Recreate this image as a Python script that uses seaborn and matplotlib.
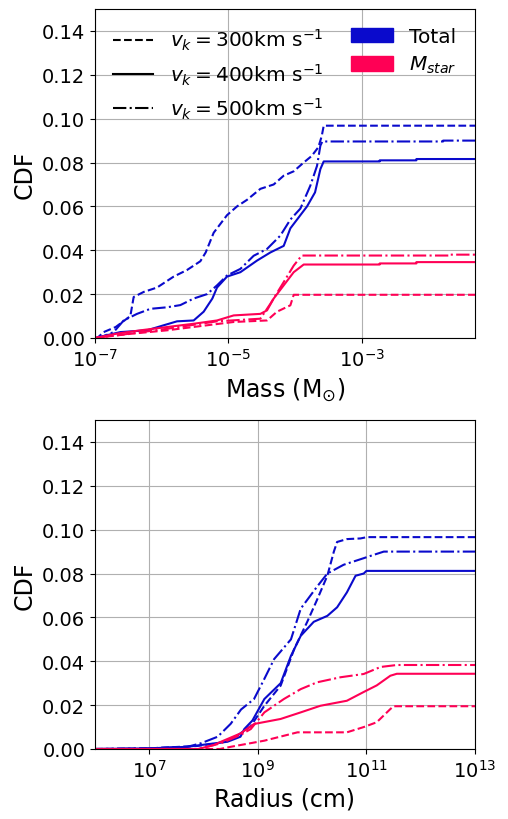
import matplotlib
matplotlib.use("Agg")
import matplotlib.pyplot as plt
import pandas as pd
import seaborn as sns
from matplotlib.lines import Line2D
from matplotlib.patches import Patch

# Top panel: CDF vs log10(mass / Msun)
mass_total_300_x = [-7.0, -6.965, -6.87, -6.69, -6.47, -6.42, -6.27, -6.07, -5.82, -5.62, -5.42, -5.34, -5.22,
                    -5.02, -4.87, -4.72, -4.52, -4.32, -4.17, -4.02, -3.87, -3.75, -3.65, -3.60, -3.57, -1.30]
mass_total_300_y = [0.0, 0.0, 0.0027, 0.005, 0.010, 0.0187, 0.021, 0.023, 0.028, 0.031, 0.035, 0.039, 0.048,
                    0.056, 0.060, 0.063, 0.068, 0.070, 0.074, 0.076, 0.080, 0.083, 0.087, 0.092, 0.0968, 0.0968]
mass_total_400_x = [-7.0, -6.62, -6.22, -5.97, -5.77, -5.52, -5.37, -5.24, -5.17, -5.02, -4.82, -4.57, -4.37,
                    -4.17, -4.07, -3.97, -3.82, -3.70, -3.62, -3.57, -2.73, -2.73, -2.18, -2.18, -1.30]
mass_total_400_y = [0.0, 0.0027, 0.0035, 0.0058, 0.0076, 0.008, 0.012, 0.018, 0.023, 0.028, 0.030, 0.0353, 0.039,
                    0.042, 0.050, 0.054, 0.060, 0.0664, 0.077, 0.0805, 0.0805, 0.081, 0.081, 0.0816, 0.0816]
mass_total_500_x = [-7.0, -6.94, -6.72, -6.57, -6.37, -6.17, -5.92, -5.72, -5.52, -5.32, -5.17, -5.02, -4.82,
                    -4.62, -4.42, -4.22, -4.07, -3.92, -3.77, -3.67, -3.62, -3.59, -1.78, -1.78, -1.30]
mass_total_500_y = [0.0, 0.0, 0.0027, 0.008, 0.011, 0.0133, 0.014, 0.015, 0.018, 0.020, 0.024, 0.0285, 0.0315,
                    0.0375, 0.0406, 0.0467, 0.054, 0.059, 0.0695, 0.0785, 0.0877, 0.0896, 0.0896, 0.090, 0.090]
mass_star_300_x = [-7.0, -6.5, -5.92, -5.4, -4.92, -4.42, -4.27, -4.07, -4.02, -1.30]
mass_star_300_y = [0.0, 0.0018, 0.0035, 0.0055, 0.0073, 0.008, 0.012, 0.0149, 0.0197, 0.0197]
mass_star_400_x = [-7.0, -6.67, -6.32, -5.92, -5.52, -5.17, -4.92, -4.52, -4.42, -4.32, -4.17, -4.02, -3.87,
                   -2.73, -2.73, -2.18, -2.18, -1.30]
mass_star_400_y = [0.0, 0.002, 0.0035, 0.005, 0.0065, 0.008, 0.0103, 0.011, 0.0126, 0.018, 0.024, 0.030, 0.0335,
                   0.0335, 0.034, 0.034, 0.0346, 0.0346]
mass_star_500_x = [-7.0, -6.6, -5.92, -5.17, -4.52, -4.37, -4.17, -4.02, -3.90, -1.68, -1.68, -1.30]
mass_star_500_y = [0.0, 0.0015, 0.0042, 0.0076, 0.0088, 0.0156, 0.0255, 0.033, 0.0376, 0.0376, 0.038, 0.038]

# Bottom panel: CDF vs log10(radius / cm)
rad_total_300_x = [6.0, 7.0, 7.89, 8.26, 8.56, 8.87, 9.12, 9.42, 9.67, 9.91, 10.09, 10.28, 10.40, 10.46,
                   10.64, 10.89, 11.01, 13.0]
rad_total_300_y = [0.0, 0.0003, 0.0014, 0.0026, 0.005, 0.0105, 0.0197, 0.0289, 0.0456, 0.058, 0.068, 0.079,
                   0.090, 0.0944, 0.0957, 0.096, 0.0966, 0.0966]
rad_total_400_x = [6.0, 7.0, 7.70, 7.95, 8.44, 8.68, 8.75, 8.90, 9.12, 9.42, 9.61, 9.79, 10.03, 10.28, 10.46,
                   10.64, 10.80, 10.95, 11.0, 13.0]
rad_total_400_y = [0.0, 0.0003, 0.001, 0.0018, 0.0033, 0.0056, 0.0091, 0.013, 0.0228, 0.030, 0.0425, 0.0516,
                   0.058, 0.0607, 0.0646, 0.0714, 0.079, 0.080, 0.0812, 0.0812]
rad_total_500_x = [6.0, 7.0, 7.70, 7.95, 8.26, 8.50, 8.69, 8.93, 9.12, 9.30, 9.61, 9.79, 9.97, 10.09, 10.28,
                   10.58, 10.95, 11.07, 11.32, 13.0]
rad_total_500_y = [0.0, 0.0003, 0.001, 0.0026, 0.0056, 0.0115, 0.018, 0.0228, 0.032, 0.041, 0.050, 0.064,
                   0.070, 0.074, 0.080, 0.084, 0.087, 0.088, 0.090, 0.090]
rad_star_300_x = [6.0, 8.3, 8.5, 9.12, 9.73, 10.64, 10.95, 11.19, 11.44, 11.50, 13.0]
rad_star_300_y = [0.0, 0.0, 0.001, 0.0038, 0.0076, 0.0076, 0.010, 0.0122, 0.0182, 0.0195, 0.0195]
rad_star_400_x = [6.0, 7.9, 8.19, 8.32, 8.68, 8.93, 9.42, 9.79, 10.15, 10.64, 10.95, 11.19, 11.44, 11.56, 13.0]
rad_star_400_y = [0.0, 0.0, 0.0018, 0.0033, 0.0071, 0.0114, 0.0137, 0.0167, 0.0197, 0.022, 0.026, 0.029,
                  0.0334, 0.0343, 0.0343]
rad_star_500_x = [6.0, 7.9, 8.32, 8.68, 8.87, 9.12, 9.48, 9.79, 10.09, 10.52, 10.95, 11.26, 11.56, 13.0]
rad_star_500_y = [0.0, 0.0, 0.0026, 0.0064, 0.0091, 0.0167, 0.0228, 0.0273, 0.0304, 0.0327, 0.0342, 0.0374,
                  0.0383, 0.0383]

vk_labels = [r"$v_k = 300$km s$^{-1}$", r"$v_k = 400$km s$^{-1}$", r"$v_k = 500$km s$^{-1}$"]
vk_values = ["300", "400", "500"]
quantities = ["Total", r"$M_{star}$"]

palette = {"Total": "#0a0acc", r"$M_{star}$": "#ff0055"}
dashes = {"300": (3.7, 1.6), "400": "", "500": (6.4, 1.6, 1.0, 1.6)}
mpl_styles = {"300": "--", "400": "-", "500": "-."}


def build(curves):
    rows = []
    for (q, vk), (xs, ys) in curves.items():
        for x, y in zip(xs, ys):
            rows.append({"x": 10.0 ** x, "cdf": y, "quantity": q, "vk": vk})
    return pd.DataFrame(rows)


df_mass = build({
    ("Total", "300"): (mass_total_300_x, mass_total_300_y),
    ("Total", "400"): (mass_total_400_x, mass_total_400_y),
    ("Total", "500"): (mass_total_500_x, mass_total_500_y),
    (r"$M_{star}$", "300"): (mass_star_300_x, mass_star_300_y),
    (r"$M_{star}$", "400"): (mass_star_400_x, mass_star_400_y),
    (r"$M_{star}$", "500"): (mass_star_500_x, mass_star_500_y),
})
df_rad = build({
    ("Total", "300"): (rad_total_300_x, rad_total_300_y),
    ("Total", "400"): (rad_total_400_x, rad_total_400_y),
    ("Total", "500"): (rad_total_500_x, rad_total_500_y),
    (r"$M_{star}$", "300"): (rad_star_300_x, rad_star_300_y),
    (r"$M_{star}$", "400"): (rad_star_400_x, rad_star_400_y),
    (r"$M_{star}$", "500"): (rad_star_500_x, rad_star_500_y),
})

fig = plt.figure(figsize=(5.08, 8.2), dpi=100)
ax1 = fig.add_axes([95 / 508, 1 - 339 / 820, 380 / 508, 329 / 820])
ax2 = fig.add_axes([95 / 508, 1 - 750 / 820, 380 / 508, 329 / 820])

for ax, df in [(ax1, df_mass), (ax2, df_rad)]:
    sns.lineplot(
        data=df, x="x", y="cdf", hue="quantity", style="vk",
        palette=palette, dashes=dashes, estimator=None, sort=True,
        linewidth=1.5, legend=False, ax=ax,
    )
    ax.set_xscale("log")
    ax.set_ylim(0, 0.15)
    ax.set_yticks([0.0, 0.02, 0.04, 0.06, 0.08, 0.10, 0.12, 0.14])
    ax.set_yticklabels([f"{v:.2f}" for v in ax.get_yticks()])
    ax.minorticks_off()
    ax.grid(True, color="#b0b0b0", linewidth=0.8)
    ax.tick_params(labelsize=14)
    ax.set_ylabel("CDF", fontsize=17)

ax1.set_xlim(1e-7, 0.05)
ax1.set_xticks([1e-7, 1e-5, 1e-3])
ax1.minorticks_off()
ax1.set_xlabel(r"Mass (M$_{\odot}$)", fontsize=17)

ax2.set_xlim(1e6, 1e13)
ax2.set_xticks([1e7, 1e9, 1e11, 1e13])
ax2.minorticks_off()
ax2.set_xlabel("Radius (cm)", fontsize=17)

style_handles = [Line2D([], [], color="black", linestyle=mpl_styles[v], linewidth=1.5) for v in vk_values]
leg1 = ax1.legend(style_handles, vk_labels, loc="upper left", frameon=False, fontsize=14.5,
                  handlelength=2.0, labelspacing=0.45, borderaxespad=0.5)
ax1.add_artist(leg1)
color_handles = [Patch(color=palette[q]) for q in quantities]
ax1.legend(color_handles, quantities, loc="upper right", frameon=False, fontsize=14.5,
           handlelength=2.1, handleheight=0.75, labelspacing=0.4, borderaxespad=0.5)

fig.savefig("out.png", dpi=100)
